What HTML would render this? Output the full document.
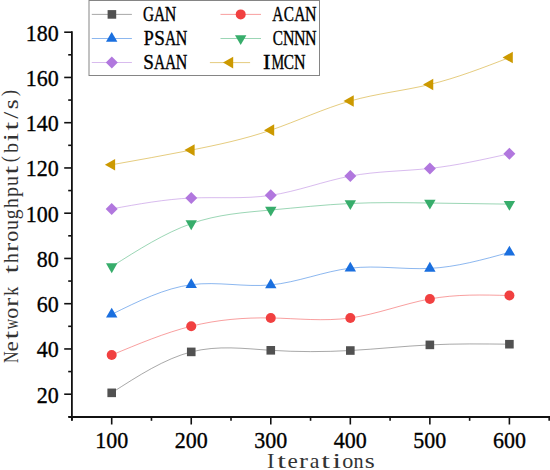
<!DOCTYPE html>
<html><head><meta charset="utf-8"><style>
html,body{margin:0;padding:0;background:#fff;}
svg{display:block;}
text{font-family:"Liberation Serif",serif;font-size:22px;fill:#000;}
.lg{font-size:22px;stroke:#000;stroke-width:0.4px;}
.ms{font-size:21.5px;fill:#333;}
.tk{font-size:23.3px;stroke:#000;stroke-width:0.35px;}
</style></head><body>
<svg width="550" height="470" viewBox="0 0 550 470">
<rect width="550" height="470" fill="#fff"/>
<path d="M111.70,392.84 C138.21,375.76 164.73,358.69 191.24,351.89 C217.75,345.10 244.27,348.58 270.78,350.31 C297.29,352.03 323.81,352.00 350.32,350.53 C376.83,349.07 403.35,346.17 429.86,344.88 C456.37,343.58 482.89,343.89 509.40,344.20" fill="none" stroke="#515151" stroke-opacity="0.5" stroke-width="1.0"/>
<path d="M111.70,355.06 C138.21,343.95 164.73,332.84 191.24,326.21 C217.75,319.59 244.27,317.45 270.78,317.95 C297.29,318.46 323.81,321.61 350.32,317.95 C376.83,314.29 403.35,303.82 429.86,298.95 C456.37,294.08 482.89,294.82 509.40,295.55" fill="none" stroke="#F14040" stroke-opacity="0.5" stroke-width="1.0"/>
<path d="M111.70,314.33 C138.21,301.25 164.73,288.16 191.24,284.69 C217.75,281.23 244.27,287.39 270.78,284.92 C297.29,282.45 323.81,271.36 350.32,268.18 C376.83,265.00 403.35,269.73 429.86,268.40 C456.37,267.08 482.89,259.71 509.40,252.34" fill="none" stroke="#1A6FDF" stroke-opacity="0.5" stroke-width="1.0"/>
<path d="M111.70,266.59 C138.21,249.77 164.73,232.95 191.24,223.61 C217.75,214.27 244.27,212.42 270.78,210.03 C297.29,207.65 323.81,204.73 350.32,203.47 C376.83,202.22 403.35,202.63 429.86,203.02 C456.37,203.41 482.89,203.78 509.40,204.15" fill="none" stroke="#37AD6B" stroke-opacity="0.5" stroke-width="1.0"/>
<path d="M111.70,208.90 C138.21,204.07 164.73,199.25 191.24,198.04 C217.75,196.84 244.27,199.25 270.78,195.33 C297.29,191.40 323.81,181.13 350.32,176.09 C376.83,171.06 403.35,171.26 429.86,168.40 C456.37,165.54 482.89,159.62 509.40,153.70" fill="none" stroke="#B177DE" stroke-opacity="0.5" stroke-width="1.0"/>
<path d="M111.70,164.78 C138.21,160.03 164.73,155.27 191.24,150.08 C217.75,144.88 244.27,139.25 270.78,130.17 C297.29,121.08 323.81,108.53 350.32,100.98 C376.83,93.43 403.35,90.87 429.86,84.46 C456.37,78.06 482.89,67.80 509.40,57.54" fill="none" stroke="#CC9900" stroke-opacity="0.5" stroke-width="1.0"/>
<rect x="107.40" y="388.54" width="8.60" height="8.60" fill="#515151"/>
<rect x="186.94" y="347.59" width="8.60" height="8.60" fill="#515151"/>
<rect x="266.48" y="346.01" width="8.60" height="8.60" fill="#515151"/>
<rect x="346.02" y="346.23" width="8.60" height="8.60" fill="#515151"/>
<rect x="425.56" y="340.58" width="8.60" height="8.60" fill="#515151"/>
<rect x="505.10" y="339.90" width="8.60" height="8.60" fill="#515151"/>
<circle cx="111.70" cy="355.06" r="5" fill="#F14040"/>
<circle cx="191.24" cy="326.21" r="5" fill="#F14040"/>
<circle cx="270.78" cy="317.95" r="5" fill="#F14040"/>
<circle cx="350.32" cy="317.95" r="5" fill="#F14040"/>
<circle cx="429.86" cy="298.95" r="5" fill="#F14040"/>
<circle cx="509.40" cy="295.55" r="5" fill="#F14040"/>
<polygon points="111.70,307.80 117.40,317.60 106.00,317.60" fill="#1A6FDF"/>
<polygon points="191.24,278.16 196.94,287.96 185.54,287.96" fill="#1A6FDF"/>
<polygon points="270.78,278.39 276.48,288.19 265.08,288.19" fill="#1A6FDF"/>
<polygon points="350.32,261.65 356.02,271.45 344.62,271.45" fill="#1A6FDF"/>
<polygon points="429.86,261.87 435.56,271.67 424.16,271.67" fill="#1A6FDF"/>
<polygon points="509.40,245.81 515.10,255.61 503.70,255.61" fill="#1A6FDF"/>
<polygon points="111.70,273.13 117.40,263.33 106.00,263.33" fill="#37AD6B"/>
<polygon points="191.24,230.14 196.94,220.34 185.54,220.34" fill="#37AD6B"/>
<polygon points="270.78,216.57 276.48,206.77 265.08,206.77" fill="#37AD6B"/>
<polygon points="350.32,210.00 356.02,200.20 344.62,200.20" fill="#37AD6B"/>
<polygon points="429.86,209.55 435.56,199.75 424.16,199.75" fill="#37AD6B"/>
<polygon points="509.40,210.68 515.10,200.88 503.70,200.88" fill="#37AD6B"/>
<polygon points="111.70,202.90 117.70,208.90 111.70,214.90 105.70,208.90" fill="#B177DE"/>
<polygon points="191.24,192.04 197.24,198.04 191.24,204.04 185.24,198.04" fill="#B177DE"/>
<polygon points="270.78,189.33 276.78,195.33 270.78,201.33 264.78,195.33" fill="#B177DE"/>
<polygon points="350.32,170.09 356.32,176.09 350.32,182.09 344.32,176.09" fill="#B177DE"/>
<polygon points="429.86,162.40 435.86,168.40 429.86,174.40 423.86,168.40" fill="#B177DE"/>
<polygon points="509.40,147.70 515.40,153.70 509.40,159.70 503.40,153.70" fill="#B177DE"/>
<polygon points="104.90,164.78 115.10,158.98 115.10,170.58" fill="#CC9900"/>
<polygon points="184.44,150.08 194.64,144.28 194.64,155.88" fill="#CC9900"/>
<polygon points="263.98,130.17 274.18,124.37 274.18,135.97" fill="#CC9900"/>
<polygon points="343.52,100.98 353.72,95.18 353.72,106.78" fill="#CC9900"/>
<polygon points="423.06,84.46 433.26,78.66 433.26,90.26" fill="#CC9900"/>
<polygon points="502.60,57.54 512.80,51.74 512.80,63.34" fill="#CC9900"/>
<line x1="71.9" y1="31.3" x2="71.9" y2="420.5" stroke="#111" stroke-width="1.8"/>
<line x1="68.5" y1="417.0" x2="551" y2="417.0" stroke="#111" stroke-width="1.8"/>
<line x1="68.2" y1="416.82" x2="71.9" y2="416.82" stroke="#111" stroke-width="1.6"/>
<line x1="64.2" y1="394.20" x2="71.9" y2="394.20" stroke="#111" stroke-width="1.6"/>
<line x1="68.2" y1="371.57" x2="71.9" y2="371.57" stroke="#111" stroke-width="1.6"/>
<line x1="64.2" y1="348.95" x2="71.9" y2="348.95" stroke="#111" stroke-width="1.6"/>
<line x1="68.2" y1="326.32" x2="71.9" y2="326.32" stroke="#111" stroke-width="1.6"/>
<line x1="64.2" y1="303.70" x2="71.9" y2="303.70" stroke="#111" stroke-width="1.6"/>
<line x1="68.2" y1="281.07" x2="71.9" y2="281.07" stroke="#111" stroke-width="1.6"/>
<line x1="64.2" y1="258.45" x2="71.9" y2="258.45" stroke="#111" stroke-width="1.6"/>
<line x1="68.2" y1="235.82" x2="71.9" y2="235.82" stroke="#111" stroke-width="1.6"/>
<line x1="64.2" y1="213.20" x2="71.9" y2="213.20" stroke="#111" stroke-width="1.6"/>
<line x1="68.2" y1="190.57" x2="71.9" y2="190.57" stroke="#111" stroke-width="1.6"/>
<line x1="64.2" y1="167.95" x2="71.9" y2="167.95" stroke="#111" stroke-width="1.6"/>
<line x1="68.2" y1="145.32" x2="71.9" y2="145.32" stroke="#111" stroke-width="1.6"/>
<line x1="64.2" y1="122.70" x2="71.9" y2="122.70" stroke="#111" stroke-width="1.6"/>
<line x1="68.2" y1="100.07" x2="71.9" y2="100.07" stroke="#111" stroke-width="1.6"/>
<line x1="64.2" y1="77.45" x2="71.9" y2="77.45" stroke="#111" stroke-width="1.6"/>
<line x1="68.2" y1="54.82" x2="71.9" y2="54.82" stroke="#111" stroke-width="1.6"/>
<line x1="64.2" y1="32.20" x2="71.9" y2="32.20" stroke="#111" stroke-width="1.6"/>
<line x1="71.93" y1="417.0" x2="71.93" y2="420.8" stroke="#111" stroke-width="1.6"/>
<line x1="111.70" y1="417.0" x2="111.70" y2="424.5" stroke="#111" stroke-width="1.6"/>
<line x1="151.47" y1="417.0" x2="151.47" y2="420.8" stroke="#111" stroke-width="1.6"/>
<line x1="191.24" y1="417.0" x2="191.24" y2="424.5" stroke="#111" stroke-width="1.6"/>
<line x1="231.01" y1="417.0" x2="231.01" y2="420.8" stroke="#111" stroke-width="1.6"/>
<line x1="270.78" y1="417.0" x2="270.78" y2="424.5" stroke="#111" stroke-width="1.6"/>
<line x1="310.55" y1="417.0" x2="310.55" y2="420.8" stroke="#111" stroke-width="1.6"/>
<line x1="350.32" y1="417.0" x2="350.32" y2="424.5" stroke="#111" stroke-width="1.6"/>
<line x1="390.09" y1="417.0" x2="390.09" y2="420.8" stroke="#111" stroke-width="1.6"/>
<line x1="429.86" y1="417.0" x2="429.86" y2="424.5" stroke="#111" stroke-width="1.6"/>
<line x1="469.63" y1="417.0" x2="469.63" y2="420.8" stroke="#111" stroke-width="1.6"/>
<line x1="509.40" y1="417.0" x2="509.40" y2="424.5" stroke="#111" stroke-width="1.6"/>
<line x1="549.17" y1="417.0" x2="549.17" y2="420.8" stroke="#111" stroke-width="1.6"/>
<text class="tk" text-anchor="end" transform="translate(58.8,402.60) scale(0.944,1)">20</text>
<text class="tk" text-anchor="end" transform="translate(58.8,357.35) scale(0.944,1)">40</text>
<text class="tk" text-anchor="end" transform="translate(58.8,312.10) scale(0.944,1)">60</text>
<text class="tk" text-anchor="end" transform="translate(58.8,266.85) scale(0.944,1)">80</text>
<text class="tk" text-anchor="end" transform="translate(58.8,221.60) scale(0.944,1)">100</text>
<text class="tk" text-anchor="end" transform="translate(58.8,176.35) scale(0.944,1)">120</text>
<text class="tk" text-anchor="end" transform="translate(58.8,131.10) scale(0.944,1)">140</text>
<text class="tk" text-anchor="end" transform="translate(58.8,85.85) scale(0.944,1)">160</text>
<text class="tk" text-anchor="end" transform="translate(58.8,40.60) scale(0.944,1)">180</text>
<text class="tk" text-anchor="middle" transform="translate(111.70,448.4) scale(0.944,1)">100</text>
<text class="tk" text-anchor="middle" transform="translate(191.24,448.4) scale(0.944,1)">200</text>
<text class="tk" text-anchor="middle" transform="translate(270.78,448.4) scale(0.944,1)">300</text>
<text class="tk" text-anchor="middle" transform="translate(350.32,448.4) scale(0.944,1)">400</text>
<text class="tk" text-anchor="middle" transform="translate(429.86,448.4) scale(0.944,1)">500</text>
<text class="tk" text-anchor="middle" transform="translate(509.40,448.4) scale(0.944,1)">600</text>
<rect x="89" y="0.5" width="230.5" height="75" fill="#fff" stroke="#858585" stroke-width="1"/>
<line x1="91.8" y1="14.4" x2="131.9" y2="14.4" stroke="#515151" stroke-opacity="0.5" stroke-width="1.0"/>
<rect x="107.60" y="10.10" width="8.60" height="8.60" fill="#515151"/>
<text class="lg" x="-8.05" transform="translate(148.60,21.00) scale(0.692,1)">G</text>
<text class="lg" x="-7.97" transform="translate(159.60,21.00) scale(0.703,1)">A</text>
<text class="lg" x="-8.01" transform="translate(170.60,21.00) scale(0.725,1)">N</text>
<line x1="91.8" y1="38.5" x2="131.9" y2="38.5" stroke="#1A6FDF" stroke-opacity="0.5" stroke-width="1.0"/>
<polygon points="111.70,31.97 117.40,41.77 106.00,41.77" fill="#1A6FDF"/>
<text class="lg" x="-5.99" transform="translate(148.60,45.30) scale(0.821,1)">P</text>
<text class="lg" x="-6.17" transform="translate(159.60,45.30) scale(0.872,1)">S</text>
<text class="lg" x="-7.97" transform="translate(170.60,45.30) scale(0.703,1)">A</text>
<text class="lg" x="-8.01" transform="translate(181.60,45.30) scale(0.725,1)">N</text>
<line x1="91.8" y1="62.5" x2="131.9" y2="62.5" stroke="#B177DE" stroke-opacity="0.5" stroke-width="1.0"/>
<polygon points="111.80,56.50 117.80,62.50 111.80,68.50 105.80,62.50" fill="#B177DE"/>
<text class="lg" x="-6.17" transform="translate(148.60,68.90) scale(0.872,1)">S</text>
<text class="lg" x="-7.97" transform="translate(159.60,68.90) scale(0.703,1)">A</text>
<text class="lg" x="-7.97" transform="translate(170.60,68.90) scale(0.703,1)">A</text>
<text class="lg" x="-8.01" transform="translate(181.60,68.90) scale(0.725,1)">N</text>
<line x1="220.5" y1="14.4" x2="261.0" y2="14.4" stroke="#F14040" stroke-opacity="0.5" stroke-width="1.0"/>
<circle cx="240.70" cy="14.40" r="5" fill="#F14040"/>
<text class="lg" x="-7.97" transform="translate(277.80,21.00) scale(0.703,1)">A</text>
<text class="lg" x="-7.18" transform="translate(288.80,21.00) scale(0.693,1)">C</text>
<text class="lg" x="-7.97" transform="translate(299.80,21.00) scale(0.703,1)">A</text>
<text class="lg" x="-8.01" transform="translate(310.80,21.00) scale(0.725,1)">N</text>
<line x1="220.5" y1="38.5" x2="261.0" y2="38.5" stroke="#37AD6B" stroke-opacity="0.5" stroke-width="1.0"/>
<polygon points="240.70,45.03 246.40,35.23 235.00,35.23" fill="#37AD6B"/>
<text class="lg" x="-7.18" transform="translate(277.80,45.30) scale(0.693,1)">C</text>
<text class="lg" x="-8.01" transform="translate(288.80,45.30) scale(0.725,1)">N</text>
<text class="lg" x="-8.01" transform="translate(299.80,45.30) scale(0.725,1)">N</text>
<text class="lg" x="-8.01" transform="translate(310.80,45.30) scale(0.725,1)">N</text>
<line x1="209.9" y1="62.6" x2="250.1" y2="62.6" stroke="#CC9900" stroke-opacity="0.5" stroke-width="1.0"/>
<polygon points="223.00,62.60 233.20,56.80 233.20,68.40" fill="#CC9900"/>
<text class="lg" x="-3.67" transform="translate(266.80,69.00) scale(1.025,1)">I</text>
<text class="lg" x="-9.78" transform="translate(277.80,69.00) scale(0.645,1)">M</text>
<text class="lg" x="-7.18" transform="translate(288.80,69.00) scale(0.693,1)">C</text>
<text class="lg" x="-8.01" transform="translate(299.80,69.00) scale(0.725,1)">N</text>
<text class="ms" x="-3.59" transform="translate(270.70,468.30) scale(1.049,1)">I</text>
<text class="ms" x="-3.03" transform="translate(281.70,468.30) scale(1.455,1)">t</text>
<text class="ms" x="-4.82" transform="translate(292.70,468.30) scale(1.081,1)">e</text>
<text class="ms" x="-3.70" transform="translate(303.70,468.30) scale(1.254,1)">r</text>
<text class="ms" x="-5.00" transform="translate(314.70,468.30) scale(1.013,1)">a</text>
<text class="ms" x="-3.03" transform="translate(325.70,468.30) scale(1.455,1)">t</text>
<text class="ms" x="-3.01" transform="translate(336.70,468.30) scale(1.428,1)">i</text>
<text class="ms" x="-5.38" transform="translate(347.70,468.30) scale(1.032,1)">o</text>
<text class="ms" x="-5.46" transform="translate(358.70,468.30) scale(0.936,1)">n</text>
<text class="ms" x="-4.24" transform="translate(369.70,468.30) scale(1.193,1)">s</text>
<text class="ms" x="-7.83" transform="translate(18.10,357.20) rotate(-90) scale(0.742,1)">N</text>
<text class="ms" x="-4.82" transform="translate(18.10,346.20) rotate(-90) scale(1.081,1)">e</text>
<text class="ms" x="-3.03" transform="translate(18.10,335.20) rotate(-90) scale(1.455,1)">t</text>
<text class="ms" x="-7.73" transform="translate(18.10,324.20) rotate(-90) scale(0.662,1)">w</text>
<text class="ms" x="-5.38" transform="translate(18.10,313.20) rotate(-90) scale(1.032,1)">o</text>
<text class="ms" x="-3.70" transform="translate(18.10,302.20) rotate(-90) scale(1.254,1)">r</text>
<text class="ms" x="-5.58" transform="translate(18.10,291.20) rotate(-90) scale(0.870,1)">k</text>
<text class="ms" x="-3.03" transform="translate(18.10,269.20) rotate(-90) scale(1.455,1)">t</text>
<text class="ms" x="-5.34" transform="translate(18.10,258.20) rotate(-90) scale(0.907,1)">h</text>
<text class="ms" x="-3.70" transform="translate(18.10,247.20) rotate(-90) scale(1.254,1)">r</text>
<text class="ms" x="-5.38" transform="translate(18.10,236.20) rotate(-90) scale(1.032,1)">o</text>
<text class="ms" x="-5.33" transform="translate(18.10,225.20) rotate(-90) scale(0.921,1)">u</text>
<text class="ms" x="-5.63" transform="translate(18.10,214.20) rotate(-90) scale(0.913,1)">g</text>
<text class="ms" x="-5.34" transform="translate(18.10,203.20) rotate(-90) scale(0.907,1)">h</text>
<text class="ms" x="-5.13" transform="translate(18.10,192.20) rotate(-90) scale(0.941,1)">p</text>
<text class="ms" x="-5.33" transform="translate(18.10,181.20) rotate(-90) scale(0.921,1)">u</text>
<text class="ms" x="-3.03" transform="translate(18.10,170.20) rotate(-90) scale(1.455,1)">t</text>
<text class="ms" x="-3.71" transform="translate(16.40,159.20) rotate(-90) scale(0.833,1)">(</text>
<text class="ms" x="-4.97" transform="translate(18.10,148.20) rotate(-90) scale(0.906,1)">b</text>
<text class="ms" x="-3.01" transform="translate(18.10,137.20) rotate(-90) scale(1.428,1)">i</text>
<text class="ms" x="-3.03" transform="translate(18.10,126.20) rotate(-90) scale(1.455,1)">t</text>
<text class="ms" x="-2.99" transform="translate(18.10,115.20) rotate(-90) scale(1.172,1)">/</text>
<text class="ms" x="-4.24" transform="translate(18.10,104.20) rotate(-90) scale(1.193,1)">s</text>
<text class="ms" x="-3.45" transform="translate(16.40,93.20) rotate(-90) scale(0.833,1)">)</text>
</svg>
</body></html>
